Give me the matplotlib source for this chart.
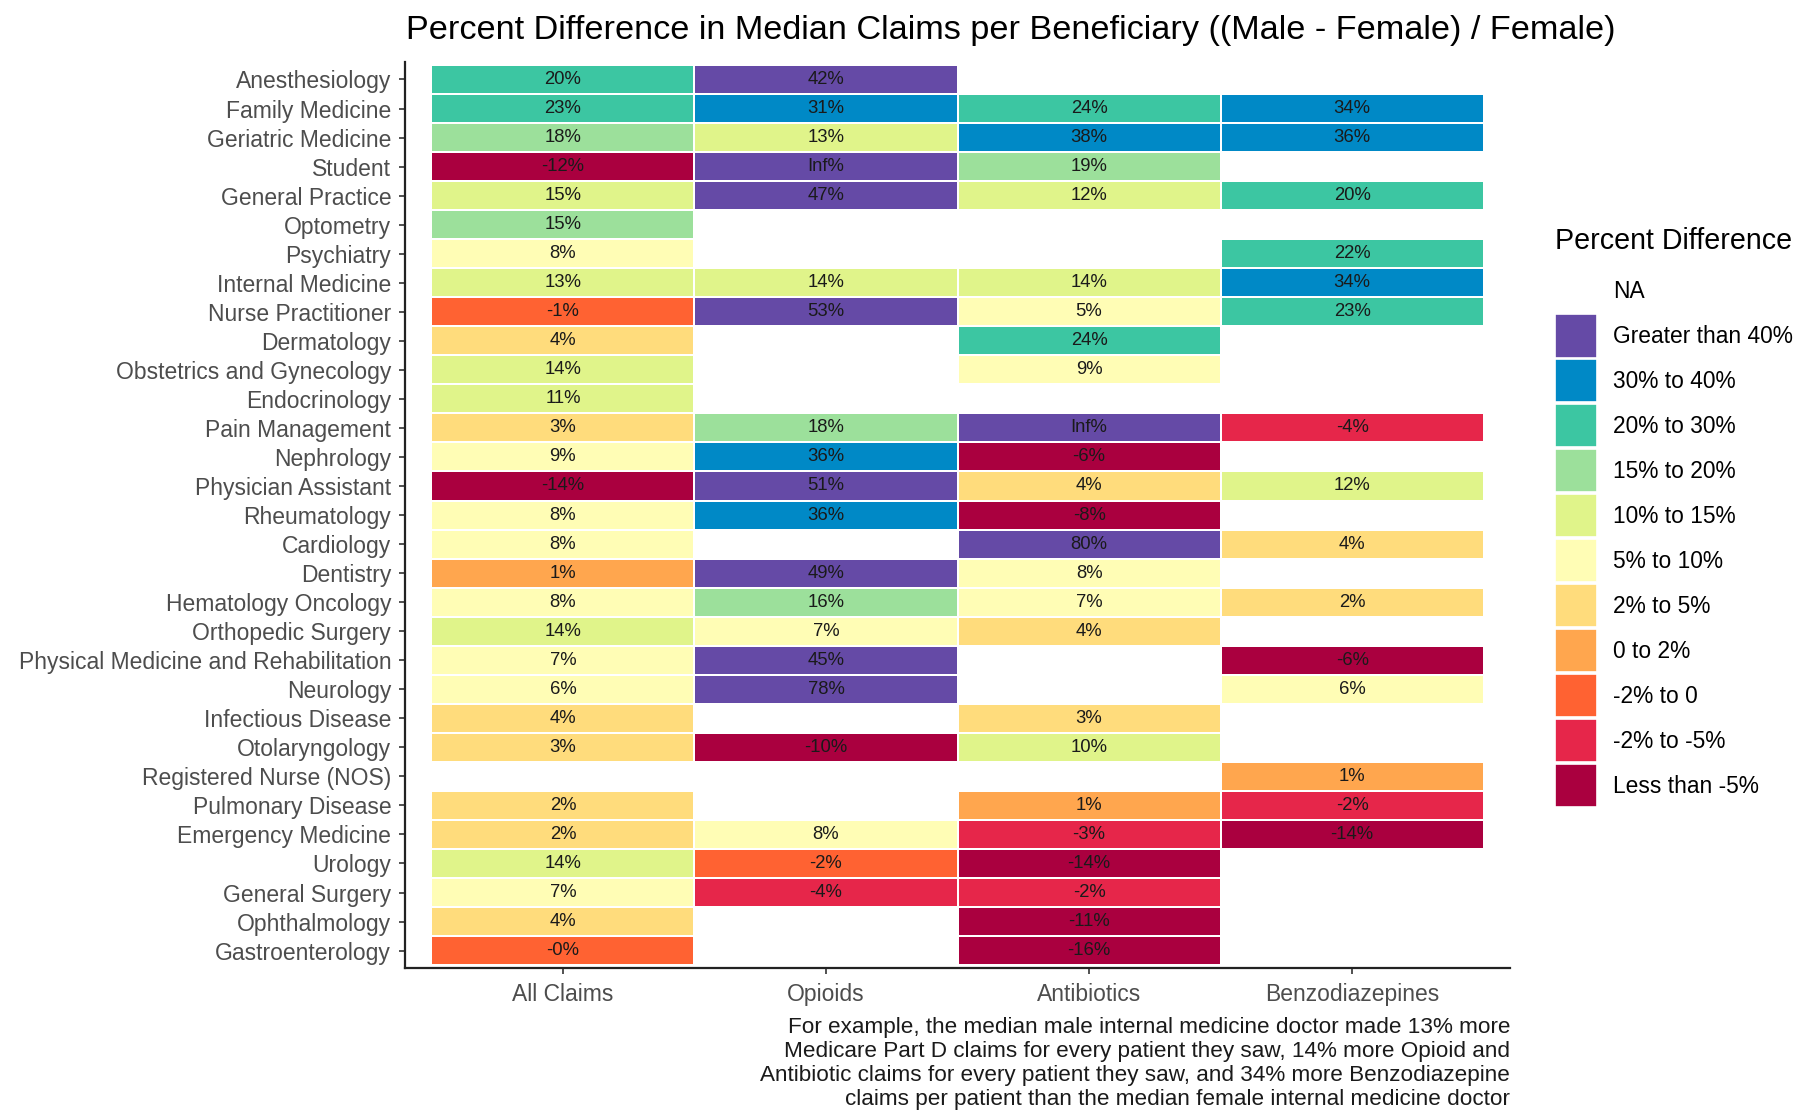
import numpy as np
import matplotlib
matplotlib.use('Agg')
import matplotlib.pyplot as plt
from matplotlib.colors import ListedColormap, BoundaryNorm
from matplotlib.patches import Patch

plt.rcParams['font.family'] = ['Liberation Sans', 'DejaVu Sans']

# Data
specialties = ["Anesthesiology", "Family Medicine", "Geriatric Medicine", "Student",
               "General Practice", "Optometry", "Psychiatry", "Internal Medicine",
               "Nurse Practitioner", "Dermatology", "Obstetrics and Gynecology",
               "Endocrinology", "Pain Management", "Nephrology", "Physician Assistant",
               "Rheumatology", "Cardiology", "Dentistry", "Hematology Oncology",
               "Orthopedic Surgery", "Physical Medicine and Rehabilitation", "Neurology",
               "Infectious Disease", "Otolaryngology", "Registered Nurse (NOS)",
               "Pulmonary Disease", "Emergency Medicine", "Urology", "General Surgery",
               "Ophthalmology", "Gastroenterology"]
claim_types = ["All Claims", "Opioids", "Antibiotics", "Benzodiazepines"]

inf = float('inf')
nan = float('nan')
all_claims = [20.3, 23, 18, -12, 14.7, 15.2, 8, 13, -1, 4, 14, 11, 3, 9, -14, 8, 8, 1, 8, 14,
              7, 6, 4, 3, nan, 2.2, 2.3, 14, 7, 4, -0.3]
opioids = [42, 31, 13, inf, 47, nan, nan, 14, 53, nan, nan, nan, 18, 36, 51, 36, nan, 49, 16, 7,
           45, 78, nan, -10, nan, nan, 8, -1.8, -4, nan, nan]
antibiotics = [nan, 24, 38, 19, 12, nan, nan, 14, 5.2, 24, 9, nan, inf, -6, 4, -8, 80, 8, 7, 4,
               nan, nan, 3, 10.2, nan, 1, -3, -14, -2.2, -11, -16]
benzos = [nan, 34, 36, nan, 20.2, nan, 22, 34, 23, nan, nan, nan, -4, nan, 12, nan, 4, nan, 2.2, nan,
          -6, 6, nan, nan, 1, -2.2, -14, nan, nan, nan, nan]

bin_edges = [-1000, -5, -2, 0, 2, 5, 10, 15, 20, 30, 40, 1000]
bin_labels = ["Less than -5%", "-2% to -5%", "-2% to 0", "0 to 2%", "2% to 5%", "5% to 10%",
              "10% to 15%", "15% to 20%", "20% to 30%", "30% to 40%", "Greater than 40%"]
bin_colors = ["#AA003F", "#E6264A", "#FF6232", "#FFA64E", "#FFDC7C", "#FFFDB5",
              "#E0F48A", "#9CE09B", "#3CC6A2", "#0089C6", "#654AA6"]

values = np.array([all_claims, opioids, antibiotics, benzos]).T

cmap = ListedColormap(bin_colors)
cmap.set_over(bin_colors[-1])
cmap.set_bad((1, 1, 1, 0))
norm = BoundaryNorm(bin_edges, cmap.N)

fig = plt.figure(figsize=(17.97, 11.12), dpi=100)
ax = fig.add_axes([0.2254, 0.1295, 0.6149, 0.8147])

nr, nc = values.shape
# Inf goes into the top bin
color_vals = np.where(np.isinf(values), 999, values)
ax.pcolormesh(np.arange(nc + 1) - 0.5, np.arange(nr + 1) - 0.5,
              np.ma.masked_where(np.isnan(color_vals), color_vals), cmap=cmap, norm=norm,
              edgecolors='white', linewidth=1.2)

for i in range(nr):
    for j in range(nc):
        v = values[i, j]
        if np.isnan(v):
            continue
        label = "Inf%" if np.isinf(v) else f"{v:.0f}%"
        ax.text(j, i, label, ha='center', va='center', fontsize=13.3, color='#1A1A1A')

ax.set_xlim(-0.6, nc - 0.4)
ax.set_ylim(nr - 0.4, -0.6)
ax.set_xticks(range(nc))
ax.set_xticklabels(claim_types)
ax.set_yticks(range(nr))
ax.set_yticklabels(specialties)
ax.tick_params(axis='both', labelsize=16.5, labelcolor='#4D4D4D', color='#333333',
               length=4, width=1.2)
ax.tick_params(axis='y', pad=6)
ax.tick_params(axis='x', pad=7)
for s in ['top', 'right']:
    ax.spines[s].set_visible(False)
for s in ['left', 'bottom']:
    ax.spines[s].set_linewidth(1.6)
    ax.spines[s].set_color('#222222')

fig.text(1011 / 1797, 1 - 31 / 1112,
         "Percent Difference in Median Claims per Beneficiary ((Male - Female) / Female)",
         ha='center', va='center', fontsize=24.7, color='black')

# legend title placed by hand so the gap above the keys matches
fig.text(1555 / 1797, 1 - 241 / 1112, "Percent Difference", ha='left', va='center',
         fontsize=20.6, color='black')
handles = [Patch(facecolor='white', edgecolor='white', label='NA')]
for lab, col in zip(bin_labels[::-1], bin_colors[::-1]):
    handles.append(Patch(facecolor=col, edgecolor='white', linewidth=1.2, label=lab))
leg = fig.legend(handles=handles, loc='upper left',
                 bbox_to_anchor=(1555 / 1797, 1 - 269.5 / 1112),
                 frameon=False, fontsize=16.4,
                 handlelength=1.86, handleheight=2.53, labelspacing=0.085, handletextpad=0.7,
                 borderpad=0, borderaxespad=0)

footnote = ("For example, the median male internal medicine doctor made 13% more\n"
            "Medicare Part D claims for every patient they saw, 14% more Opioid and\n"
            "Antibiotic claims for every patient they saw, and 34% more Benzodiazepine\n"
            "claims per patient than the median female internal medicine doctor")
fig.text(1510 / 1797, 1 - 1017 / 1112, footnote, ha='right', va='top', fontsize=16.2,
         color='#1A1A1A', linespacing=1.19, multialignment='right')

fig.savefig('out.png', dpi=100)
